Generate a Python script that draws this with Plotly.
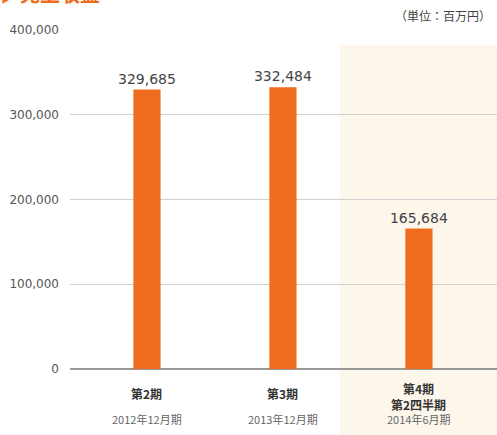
import plotly.graph_objects as go

categories = ["第2期", "第3期", "第4期<br>第2四半期"]
periods = ["2012年12月期", "2013年12月期", "2014年6月期"]
values = [329685, 332484, 165684]
value_labels = ["329,685", "332,484", "165,684"]
ytick_vals = [0, 100000, 200000, 300000, 400000]
ytick_text = ["0", "100,000", "200,000", "300,000", "400,000"]

FONT = "Noto Sans CJK JP"
NUMFONT = "DejaVu Sans"
xpos = list(range(len(categories)))

fig = go.Figure()
fig.add_trace(go.Bar(
    x=xpos, y=values, width=0.2,
    marker=dict(color="#ef6b1d", line=dict(width=0)),
    text=value_labels, textposition="outside", constraintext="none",
    textfont=dict(family=NUMFONT, size=14, color="#444444"),
    cliponaxis=False,
))

fig.add_shape(type="rect", xref="paper", yref="paper",
              x0=0.632, x1=1.0, y0=-0.2, y1=0.956,
              fillcolor="#fdf6ea", line=dict(width=0), layer="below")

for i, (c, p) in enumerate(zip(categories, periods)):
    nlines = len(c.split("<br>"))
    shift = -24 if nlines == 1 else -27
    fig.add_annotation(x=i, y=0, xref="x", yref="paper", yshift=shift,
                       text="<b>" + c.replace("<br>", "</b><br><b>") + "</b>",
                       showarrow=False, yanchor="middle", borderpad=0,
                       font=dict(family=FONT, size=12, color="#333333"))
    fig.add_annotation(x=i, y=0, xref="x", yref="paper", yshift=-50,
                       text=p, showarrow=False, yanchor="middle", borderpad=0,
                       font=dict(family=FONT, size=11, color="#666666"))

fig.add_annotation(x=1.0, y=1.0, xref="paper", yref="paper", xshift=-4, yshift=15,
                   xanchor="right", yanchor="middle", text="（単位：百万円）",
                   showarrow=False, font=dict(family=FONT, size=12, color="#444444"))
fig.add_annotation(x=0, y=1.0, xref="paper", yref="paper", xshift=-72, yshift=20,
                   xanchor="left", yanchor="bottom", text="<b>▶売上収益</b>",
                   showarrow=False, font=dict(family=FONT, size=20, color="#ef6b1d"))

fig.update_layout(
    width=497, height=435,
    margin=dict(l=70, r=0, t=30, b=66),
    paper_bgcolor="white", plot_bgcolor="rgba(0,0,0,0)",
    showlegend=False,
    xaxis=dict(range=[-0.566, 2.574], showticklabels=False, showgrid=False,
               zeroline=False, showline=False, fixedrange=True),
    yaxis=dict(range=[0, 400000], tickvals=ytick_vals, ticktext=ytick_text,
               showgrid=True, gridcolor="#d0d0d0", gridwidth=1,
               zeroline=True, zerolinecolor="#999999", zerolinewidth=2,
               tickfont=dict(family=NUMFONT, size=12, color="#555555"),
               ticks="", ticklabelstandoff=10, showline=False, fixedrange=True),
)

fig.write_html("out.html", config={"displayModeBar": False},
               post_script="document.body.style.margin='0';document.body.style.overflow='hidden';")
